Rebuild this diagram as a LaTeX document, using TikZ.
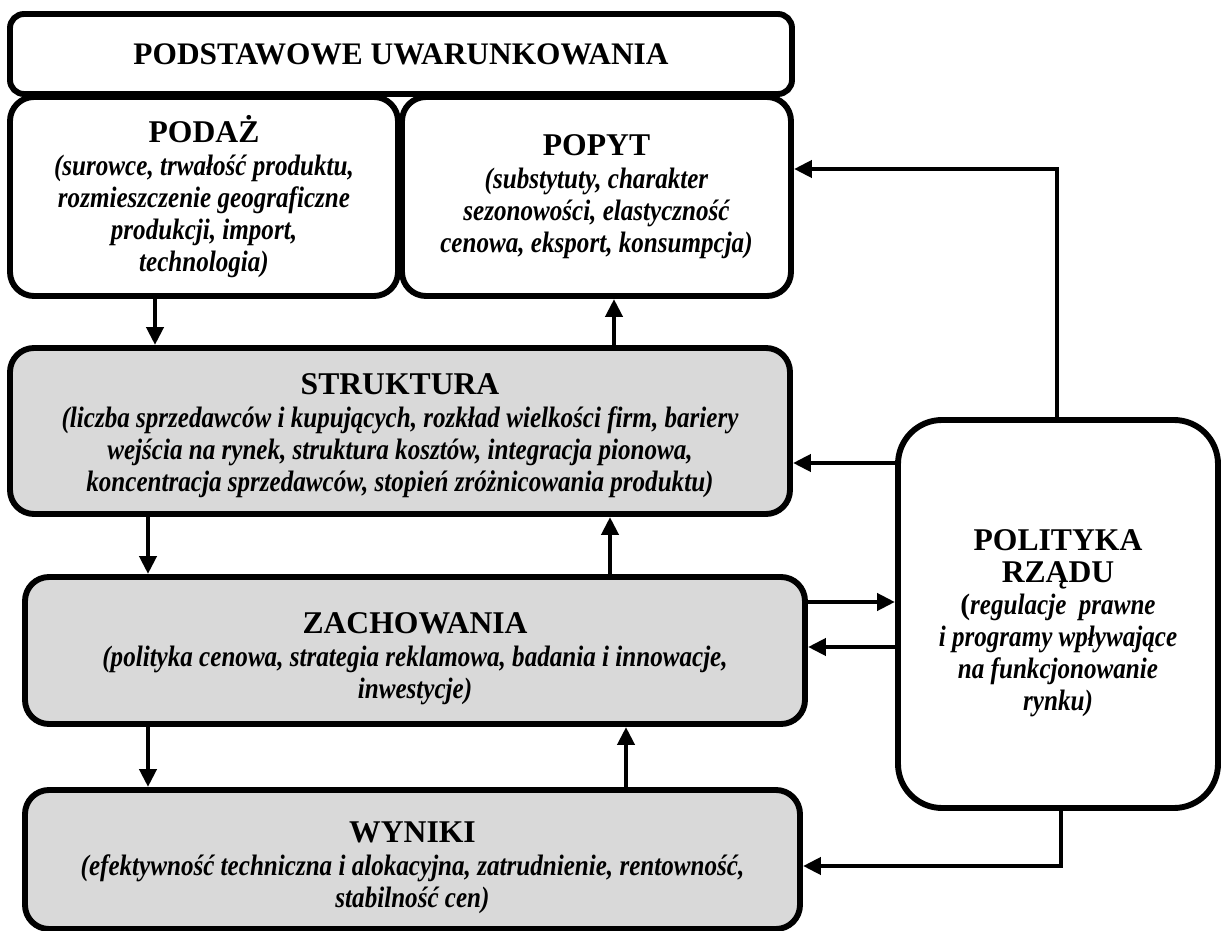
\documentclass[tikz,border=0pt]{standalone}
\usepackage{fontspec}
\setmainfont{Liberation Serif}
\newfontfamily\opis[FakeStretch=0.85]{Liberation Serif}
\usetikzlibrary{arrows.meta, positioning}
\definecolor{szary}{RGB}{217,217,217}
\newcommand{\tytul}{\rmfamily\fontsize{22.5}{26}\selectfont\upshape}
\newcommand{\naglowek}[2]{\raisebox{0pt}[#1][0pt]{\tytul #2}}
\tikzset{
  ramka/.style={rectangle, rounded corners=0.6cm, draw=black, line width=4.2pt, fill=white,
                align=center, inner sep=0pt, font=\opis\fontsize{21}{22.7}\selectfont\bfseries\itshape},
  ramkaszara/.style={ramka, fill=szary},
  arrow/.style={line width=3.4pt, -{Triangle[length=0.45cm,width=0.42cm]}}
}

\begin{document}
\begin{tikzpicture}
  \useasboundingbox (0,0) rectangle (30.525,-23.275);
  \node (podst) [ramka, rounded corners=0.35cm, minimum width=19.55cm, minimum height=2cm] at (10.025,-1.35) {\tytul\fontsize{22.3}{26}\selectfont PODSTAWOWE UWARUNKOWANIA};
  \node (podaz) [ramka, minimum width=9.7cm, minimum height=4.975cm] at (5.1,-4.9125)
    {{\tytul PODAŻ}\\[1pt] (surowce, trwałość produktu,\\ rozmieszczenie geograficzne\\ produkcji, import,\\ technologia)};
  \node (popyt) [ramka, minimum width=9.725cm, minimum height=4.975cm] at (14.9125,-4.9125)
    {{\tytul POPYT}\\[1pt] (substytuty, charakter\\ sezonowości, elastyczność\\ cenowa, eksport, konsumpcja)};
  \node (struktura) [ramkaszara, minimum width=19.5cm, minimum height=4.15cm] at (10.0,-10.775)
    {\naglowek{21pt}{STRUKTURA}\\[1pt] (liczba sprzedawców i kupujących, rozkład wielkości firm, bariery\\ wejścia na rynek, struktura kosztów, integracja pionowa,\\ koncentracja sprzedawców, stopień zróżnicowania produktu)};
  \node (zachowania) [ramkaszara, minimum width=19.5cm, minimum height=3.675cm] at (10.375,-16.2625)
    {\naglowek{26.5pt}{ZACHOWANIA}\\[1pt] (polityka cenowa, strategia reklamowa, badania i innowacje,\\ inwestycje)};
  \node (wyniki) [ramkaszara, minimum width=19.375cm, minimum height=3.475cm] at (10.3125,-21.4875)
    {\naglowek{26.5pt}{WYNIKI}\\[1pt] (efektywność techniczna i alokacyjna, zatrudnienie, rentowność,\\ stabilność cen)};
  \node (polityka) [ramka, rounded corners=1.1cm, minimum width=8cm, minimum height=9.7cm] at (26.45,-15.35)
    {\naglowek{28pt}{POLITYKA}\\ {\tytul RZĄDU}\\ {\rmfamily\upshape(}regulacje\ \ prawne\\ i programy wpływające\\ na funkcjonowanie\\ rynku)};

  % punkty pomocnicze dla strzalek
  \coordinate (k1) at (3.875,0);
  \coordinate (k2) at (15.35,0);
  \coordinate (k3) at (3.7,0);
  \coordinate (k4) at (15.25,0);
  \coordinate (k5) at (15.65,0);
  \coordinate (w1) at (0,-11.575);
  \coordinate (w2) at (0,-15.05);
  \coordinate (w3) at (0,-16.175);
  \coordinate (pp) at (26.425,-4.225);
  \coordinate (pw) at (26.525,-21.65);

  \draw [arrow] (podaz.south -| k1) -- (struktura.north -| k1);
  \draw [arrow] (struktura.north -| k2) -- (popyt.south -| k2);
  \draw [arrow] (struktura.south -| k3) -- (zachowania.north -| k3);
  \draw [arrow] (zachowania.north -| k4) -- (struktura.south -| k4);
  \draw [arrow] (zachowania.south -| k3) -- (wyniki.north -| k3);
  \draw [arrow] (wyniki.north -| k5) -- (zachowania.south -| k5);
  \draw [arrow] (polityka.west |- w1) -- (struktura.east |- w1);
  \draw [arrow] (zachowania.east |- w2) -- (polityka.west |- w2);
  \draw [arrow] (polityka.west |- w3) -- (zachowania.east |- w3);
  \draw [arrow] (polityka.north -| pp) |- (popyt.east |- pp);
  \draw [arrow] (polityka.south -| pw) |- (wyniki.east |- pw);
\end{tikzpicture}
\end{document}
